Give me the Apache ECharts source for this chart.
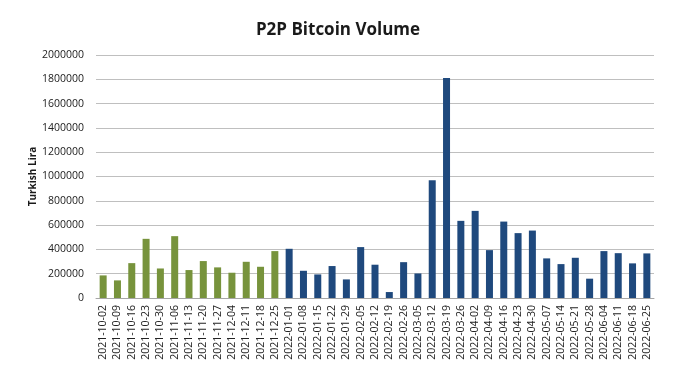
<!DOCTYPE html>
<html>
<head>
<meta charset="utf-8">
<script src="https://cdn.jsdelivr.net/npm/echarts@6/dist/echarts.min.js"></script>
<style>
html,body{margin:0;padding:0;background:#fff;}
#chart{width:676px;height:381px;}
</style>
</head>
<body>
<div id="chart"></div>
<script>
const categories = [
  '2021-10-02','2021-10-09','2021-10-16','2021-10-23','2021-10-30','2021-11-06','2021-11-13',
  '2021-11-20','2021-11-27','2021-12-04','2021-12-11','2021-12-18','2021-12-25',
  '2022-01-01','2022-01-08','2022-01-15','2022-01-22','2022-01-29','2022-02-05','2022-02-12',
  '2022-02-19','2022-02-26','2022-03-05','2022-03-12','2022-03-19','2022-03-26','2022-04-02',
  '2022-04-09','2022-04-16','2022-04-23','2022-04-30','2022-05-07','2022-05-14','2022-05-21',
  '2022-05-28','2022-06-04','2022-06-11','2022-06-18','2022-06-25'
];
// 2021 weeks (green)
const volume2021 = [186000,145000,287000,487000,243000,509000,230000,304000,252000,208000,298000,257000,386000];
// 2022 weeks (blue)
const volume2022 = [405000,224000,194000,263000,153000,419000,274000,49000,295000,202000,969000,1811000,
  635000,717000,394000,629000,534000,555000,326000,279000,331000,159000,386000,369000,285000,367000];
const yTicks = { min: 0, max: 2000000, interval: 200000 };

const greenData = categories.map((c, i) => i < volume2021.length ? volume2021[i] : '-');
const blueData = categories.map((c, i) => i < volume2021.length ? '-' : volume2022[i - volume2021.length]);

const chart = echarts.init(document.getElementById('chart'));
chart.setOption({
  animation: false,
  title: {
    text: 'P2P Bitcoin Volume',
    left: 'center',
    top: 17,
    textStyle: { fontFamily: 'Open Sans', fontSize: 17, fontWeight: 'bold', color: '#1a1a1a' }
  },
  grid: { left: 96, right: 22, top: 55, bottom: 83 },
  xAxis: {
    type: 'category',
    data: categories,
    axisLine: { lineStyle: { color: '#a6a6a6' } },
    axisTick: { show: false },
    axisLabel: {
      rotate: 90, interval: 0, fontFamily: 'Open Sans', fontSize: 10.5, color: '#222', margin: 7
    }
  },
  yAxis: {
    type: 'value',
    min: yTicks.min, max: yTicks.max, interval: yTicks.interval,
    name: 'Turkish Lira',
    nameLocation: 'middle',
    nameGap: 58,
    nameMoveOverlap: false,
    nameRotate: 90,
    nameTextStyle: { fontFamily: 'Open Sans', fontSize: 10, fontWeight: 'bold', color: '#1a1a1a' },
    axisLine: { show: false },
    axisTick: { show: false },
    splitLine: { lineStyle: { color: '#bfbfbf' } },
    axisLabel: {
      fontFamily: 'Open Sans', fontSize: 10.5, color: '#222', margin: 12,
      formatter: v => String(v)
    }
  },
  series: [
    { type: 'bar', stack: 'v', data: greenData, barWidth: 7, itemStyle: { color: '#77933C' } },
    { type: 'bar', stack: 'v', data: blueData, barWidth: 7, itemStyle: { color: '#1F497D' } }
  ]
});
</script>
</body>
</html>
